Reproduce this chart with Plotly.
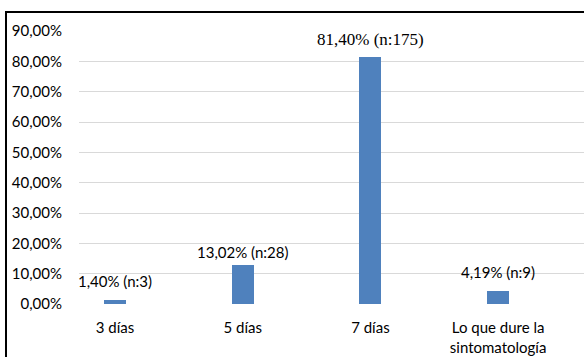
import plotly.graph_objects as go

categories = ["3 días", "5 días", "7 días", "Lo que dure la<br>sintomatología"]
values = [0.0140, 0.1302, 0.8140, 0.0419]
counts = [3, 28, 175, 9]
label_texts = ["1,40% (n:3)", "13,02% (n:28)", "81,40% (n:175)", "4,19% (n:9)"]
label_fonts = ["Lato", "Lato", "Liberation Serif", "Lato"]
label_sizes = [15, 15, 17, 15]
label_shifts = [8, 2, 6, 8]
tick_vals = [i / 100 for i in range(0, 91, 10)]
tick_text = [f"{i},00%" for i in range(0, 91, 10)]

W, H = 584, 357
px_left, px_right = 79, 584
px_top, px_bottom = 31, 304
cat_center0, cat_step = 115, 127.7
bar_px = 22
PW, PH = px_right - px_left, px_bottom - px_top

x_idx = list(range(len(categories)))
xr = [(px_left - cat_center0) / cat_step, (px_right - cat_center0) / cat_step]


def px_to_paper_x(px):
    return (px - px_left) / PW


def px_to_paper_y(py):
    return (px_bottom - py) / PH


fig = go.Figure()
fig.add_trace(go.Bar(
    x=x_idx, y=values, width=bar_px / cat_step,
    marker=dict(color="#4f81bd", line=dict(width=0)),
    hoverinfo="skip",
))

for i, (v, t) in enumerate(zip(values, label_texts)):
    fig.add_annotation(
        x=i, y=v, text=t, showarrow=False, xanchor="center", yanchor="bottom",
        yshift=label_shifts[i],
        font=dict(family=label_fonts[i], size=label_sizes[i], color="#000000"),
    )

fig.update_layout(
    width=W, height=H, autosize=False,
    margin=dict(l=px_left, r=W - px_right, t=px_top, b=H - px_bottom, pad=0, autoexpand=False),
    paper_bgcolor="white", plot_bgcolor="white",
    showlegend=False,
    font=dict(family="Lato", size=15, color="#000000"),
    xaxis=dict(
        range=xr, tickmode="array", tickvals=x_idx, ticktext=categories,
        showgrid=False, zeroline=False, showline=False, automargin=False,
        ticks="outside", ticklen=10, tickcolor="rgba(0,0,0,0)",
        tickfont=dict(family="Lato", size=15),
    ),
    yaxis=dict(
        range=[0, 0.9], tickmode="array", tickvals=tick_vals, ticktext=tick_text,
        showgrid=True, gridcolor="#d9d9d9", gridwidth=1,
        zeroline=False, showline=False, automargin=False,
        ticks="outside", ticklen=13, tickcolor="rgba(0,0,0,0)",
        tickfont=dict(family="Lato", size=15),
    ),
    bargap=0,
)

# outer frame (top and left borders of the original image)
fig.add_shape(type="line", xref="paper", yref="paper",
              x0=px_to_paper_x(5), x1=px_to_paper_x(W + 5),
              y0=px_to_paper_y(12), y1=px_to_paper_y(12),
              line=dict(color="#000000", width=2))
fig.add_shape(type="line", xref="paper", yref="paper",
              x0=px_to_paper_x(6), x1=px_to_paper_x(6),
              y0=px_to_paper_y(H + 5), y1=px_to_paper_y(11),
              line=dict(color="#000000", width=2))

fig.write_html("out.html")
